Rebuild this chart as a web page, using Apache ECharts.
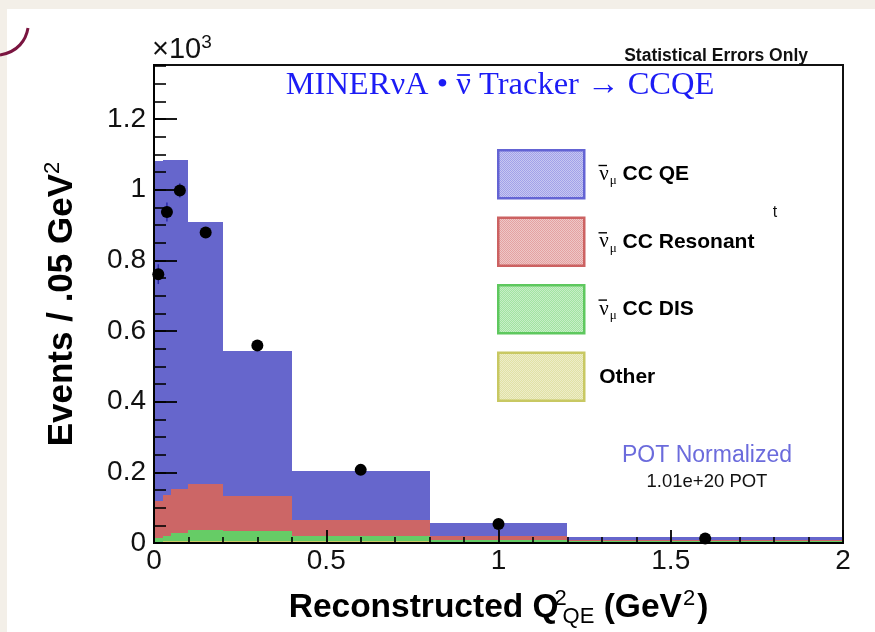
<!DOCTYPE html>
<html><head><meta charset="utf-8">
<script src="https://cdn.jsdelivr.net/npm/echarts@6/dist/echarts.min.js"></script>
<style>
html,body{margin:0;padding:0;background:#f3efe8;overflow:hidden;}
#panel{position:absolute;left:7px;top:9px;width:868px;height:623px;background:#fff;}
#c{position:absolute;left:0;top:0;width:875px;height:632px;}
</style>
</head><body><div id="panel"></div><div id="c"></div>
<script>
// ---- data ----
const binEdges = [0, 0.025, 0.05, 0.1, 0.2, 0.4, 0.8, 1.2, 2.0];
const qeVals    = [0.961, 0.949, 0.933, 0.743, 0.410, 0.139, 0.036, 0.008];
const resVals   = [0.104, 0.116, 0.123, 0.130, 0.100, 0.045, 0.012, 0.003];
const disVals   = [0.011, 0.015, 0.023, 0.030, 0.027, 0.014, 0.004, 0.002];
const otherVals = [0.004, 0.005, 0.006, 0.007, 0.007, 0.006, 0.004, 0.003];
const dataX   = [0.0125, 0.0375, 0.075, 0.15, 0.3, 0.6, 1.0, 1.6];
const dataY   = [0.761, 0.937, 0.998, 0.879, 0.559, 0.207, 0.054, 0.013];
const dataErr = [0.028, 0.027, 0.020, 0.014, 0.010, 0.006, 0.004, 0.002];
const xTicks = [0, 0.5, 1, 1.5, 2];
const yTicks = [0, 0.2, 0.4, 0.6, 0.8, 1, 1.2];
const seriesNames = ['\u03BD\u0304\u03BC CC QE', '\u03BD\u0304\u03BC CC Resonant', '\u03BD\u0304\u03BC CC DIS', 'Other'];
const legendTexts = ['CC QE', 'CC Resonant', 'CC DIS', 'Other'];
const titleParts = ['MINER\u03BDA \u2022 ', '\u03BD', ' Tracker \u2192 CCQE'];

// ---- styles ----
const fillColors = ['#6666cc', '#cc6666', '#66cc66', '#cccc66'];
const legendColors = ['#6a6adc', '#d46a6a', '#6ad46a', '#d0d070'];
const borderColors = ['#6464d4', '#cc6262', '#5ec85e', '#c8c862'];
const Y_MAX = 1.353;
const SANS = '"Liberation Sans", Arial, Helvetica, sans-serif';
const SERIF = '"Liberation Serif", "Times New Roman", serif';

function pattern(col) {
  const cv = document.createElement('canvas');
  cv.width = 2; cv.height = 2;
  const ctx = cv.getContext('2d');
  ctx.fillStyle = '#ffffff'; ctx.fillRect(0, 0, 2, 2);
  ctx.fillStyle = col; ctx.fillRect(0, 0, 1, 1); ctx.fillRect(1, 1, 1, 1);
  return { image: cv, repeat: 'repeat' };
}

const stackOrder = [otherVals, disVals, resVals, qeVals]; // bottom to top
const stackIdx = [3, 2, 1, 0];
const lower = binEdges.slice(0, -1).map(() => 0);
const histSeries = [];
stackOrder.forEach((vals, k) => {
  const idx = stackIdx[k];
  const data = vals.map((v, i) => {
    const d = [binEdges[i], binEdges[i + 1], lower[i], lower[i] + v];
    lower[i] += v;
    return d;
  });
  histSeries.push({
    type: 'custom', name: seriesNames[idx], data: data, z: 2,
    encode: { x: [0, 1], y: [2, 3] }, silent: true,
    itemStyle: { color: fillColors[idx] },
    renderItem: function (params, api) {
      const p0 = api.coord([api.value(0), api.value(3)]);
      const p1 = api.coord([api.value(1), api.value(2)]);
      const x0 = Math.round(p0[0]), x1 = Math.round(p1[0]);
      const y0 = Math.round(p0[1]), y1 = Math.round(p1[1]);
      return { type: 'rect', z2: k, shape: { x: x0, y: y0, width: x1 - x0, height: y1 - y0 },
               style: { fill: fillColors[idx] } };
    }
  });
});

// data points with statistical error bars (bar first, marker on top)
const pointSeries = {
  type: 'custom', name: 'data', z: 10, silent: true,
  data: dataX.map((x, i) => [x, dataY[i], dataY[i] - dataErr[i], dataY[i] + dataErr[i]]),
  encode: { x: 0, y: [1, 2, 3] },
  renderItem: function (params, api) {
    const c = api.coord([api.value(0), api.value(1)]);
    const a = api.coord([api.value(0), api.value(2)]);
    const b = api.coord([api.value(0), api.value(3)]);
    return { type: 'group', children: [
      { type: 'line', shape: { x1: a[0], y1: a[1], x2: b[0], y2: b[1] }, style: { stroke: '#2a2aa8', lineWidth: 1.5 } },
      { type: 'circle', shape: { cx: c[0], cy: c[1], r: 6 }, style: { fill: '#000' } }
    ] };
  }
};

// measure title pieces for the nu-bar overline
const mctx = document.createElement('canvas').getContext('2d');
const TITLE_FS = 32.5;
mctx.font = TITLE_FS + 'px ' + SERIF;
const tw = titleParts.map(s => mctx.measureText(s).width);
const titleCenter = 500, titleY = 85;
let tx = titleCenter - (tw[0] + tw[1] + tw[2]) / 2;
const titleGraphics = [];
titleParts.forEach((s, i) => {
  titleGraphics.push({ type: 'text', x: tx, y: titleY, style: { text: s, fontFamily: SERIF, fontSize: TITLE_FS,
    fill: '#1c1cf5', align: 'left', verticalAlign: 'middle' } });
  if (i === 1) {
    titleGraphics.push({ type: 'line', shape: { x1: tx + 1, y1: titleY - 10, x2: tx + tw[1] - 1, y2: titleY - 10 },
      style: { stroke: '#1c1cf5', lineWidth: 1.8 } });
  }
  tx += tw[i];
});

// legend layout constants
const LEG_LEFT = 492, LEG_TOP = 144, LEG_W = 86, LEG_H = 48, LEG_GAP = 17;
mctx.font = '21px ' + SERIF;
const nuW = mctx.measureText('\u03BD').width;
const legendBars = [0, 1, 2].map(i => {
  const cy = LEG_TOP + 5 + LEG_H / 2 + i * (LEG_H + LEG_GAP + 2.3);
  const x = LEG_LEFT + 5 + LEG_W + 5 + 10;
  return { type: 'line', shape: { x1: x + 0.5, y1: cy - 7.5, x2: x + nuW - 0.5, y2: cy - 7.5 }, style: { stroke: '#000', lineWidth: 1.4 } };
});

const option = {
  backgroundColor: 'transparent',
  animation: false,
  grid: { left: 154, right: 32, top: 65, bottom: 89, show: true, borderColor: '#111', borderWidth: 2, containLabel: false, outerBoundsMode: 'none' },
  xAxis: {
    type: 'value', min: 0, max: 2, interval: 0.5, z: 6,
    axisLine: { show: true, onZero: false, lineStyle: { color: '#000', width: 2 } },
    axisTick: { show: true, inside: true, length: 13, lineStyle: { color: '#000', width: 1.8 } },
    minorTick: { show: true, splitNumber: 5, length: 6, lineStyle: { color: '#000', width: 1.6 } },
    splitLine: { show: false },
    axisLabel: { fontFamily: SANS, fontSize: 28, color: '#111', margin: 4, hideOverlap: false,
                 formatter: v => (xTicks.indexOf(v) >= 0 ? String(v) : '') },
    name: '{b|Reconstructed Q}{sup|2}{sub|QE}{b| (GeV}{sup2|2}{b|)}',
    nameLocation: 'middle', nameGap: 45,
    nameTextStyle: { rich: {
      b: { fontFamily: SANS, fontWeight: 'bold', fontSize: 33.5, color: '#000', lineHeight: 40 },
      sup: { fontFamily: SANS, fontSize: 22, color: '#000', verticalAlign: 'top', lineHeight: 40, width: 0, align: 'left', padding: [0, 0, 18, 2] },
      sup2: { fontFamily: SANS, fontSize: 22, color: '#000', verticalAlign: 'top', lineHeight: 40, padding: [0, 2, 18, 1] },
      sub: { fontFamily: SANS, fontSize: 22, color: '#000', verticalAlign: 'bottom', lineHeight: 40, padding: [16, 0, 0, 2] }
    } }
  },
  yAxis: [{
    type: 'value', min: 0, max: Y_MAX, interval: 0.2, z: 6,
    axisLine: { show: true, onZero: false, lineStyle: { color: '#000', width: 2 } },
    axisTick: { show: true, inside: true, length: 23, lineStyle: { color: '#000', width: 1.8 } },
    splitLine: { show: false },
    axisLabel: { fontFamily: SANS, fontSize: 28, color: '#111', margin: 8, showMaxLabel: false, hideOverlap: false,
                 formatter: v => { const t = yTicks.find(q => Math.abs(q - v) < 1e-6); return t === undefined ? '' : String(t); } },
    name: '{b|Events / .05 GeV}{sup|2}',
    nameLocation: 'middle', nameGap: 72, nameRotate: 90,
    nameTextStyle: { rich: {
      b: { fontFamily: SANS, fontWeight: 'bold', fontSize: 35, color: '#000', lineHeight: 40 },
      sup: { fontFamily: SANS, fontSize: 22, color: '#000', verticalAlign: 'top', lineHeight: 40, padding: [0, 0, 18, 0] }
    } }
  }, {
    type: 'value', min: 0, max: Y_MAX, interval: 0.05, position: 'left', z: 6,
    axisLine: { show: false },
    axisTick: { show: true, inside: true, length: 12, lineStyle: { color: '#000', width: 1.6 } },
    axisLabel: { show: false }, splitLine: { show: false }
  }],
  legend: {
    orient: 'vertical', left: LEG_LEFT, top: LEG_TOP, itemWidth: LEG_W, itemHeight: LEG_H, itemGap: LEG_GAP, icon: 'rect',
    selectedMode: false,
    data: seriesNames.map((n, i) => ({ name: n, icon: 'rect',
      itemStyle: { color: pattern(legendColors[i]), borderColor: borderColors[i], borderWidth: 2.5 } })),
    formatter: function (n) {
      const i = seriesNames.indexOf(n);
      if (i === 3) return '{t|Other}';
      return '{nu|\u03BD}{mu|\u03BC}{t| ' + legendTexts[i] + '}';
    },
    textStyle: { padding: [0, 0, 0, 10], rich: {
      nu: { fontFamily: SERIF, fontSize: 21, color: '#000', lineHeight: 26 },
      mu: { fontFamily: SERIF, fontSize: 13, color: '#000', verticalAlign: 'bottom', lineHeight: 26, padding: [10, 0, 0, 1] },
      t: { fontFamily: SANS, fontWeight: 'bold', fontSize: 21, color: '#000', lineHeight: 26 }
    } }
  },
  graphic: titleGraphics.concat(legendBars).concat([
    { type: 'text', left: 152, top: 33, style: { text: '{a|\u00D710}{s|3}', rich: {
        a: { fontFamily: SANS, fontSize: 29, fill: '#111' },
        s: { fontFamily: SANS, fontSize: 19, fill: '#111', verticalAlign: 'top', padding: [0, 0, 14, 0] } } } },
    { type: 'text', x: 808, y: 56, style: { text: 'Statistical Errors Only', fontFamily: SANS, fontWeight: 'bold', fontSize: 17.5,
        fill: '#111', align: 'right', verticalAlign: 'middle' } },
    { type: 'text', x: 707, y: 456, style: { text: 'POT Normalized', fontFamily: SANS, fontSize: 23,
        fill: '#6b6bdc', align: 'center', verticalAlign: 'middle' } },
    { type: 'text', x: 707, y: 482, style: { text: '1.01e+20 POT', fontFamily: SANS, fontSize: 18.5,
        fill: '#111', align: 'center', verticalAlign: 'middle' } },
    { type: 'text', x: 775, y: 213, style: { text: 't', fontFamily: SANS, fontSize: 16,
        fill: '#111', align: 'center', verticalAlign: 'middle' } },
    { type: 'bezierCurve', silent: true, shape: { x1: 0, y1: 55, cpx1: 18, cpy1: 52, cpx2: 26, cpy2: 40, x2: 28, y2: 28 },
      style: { stroke: '#7a1540', lineWidth: 3, fill: null } }
  ]),
  series: histSeries.concat([pointSeries])
};

const chart = echarts.init(document.getElementById('c'), null, { renderer: 'canvas' });
chart.setOption(option);
</script>
</body></html>
